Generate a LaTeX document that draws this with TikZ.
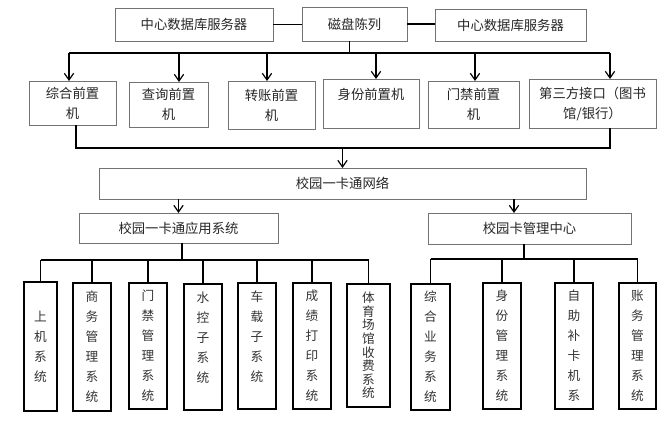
\documentclass[tikz,border=0pt]{standalone}
\usepackage{fontspec}
\newfontfamily\cjk{Noto Sans CJK SC}
\usetikzlibrary{arrows.meta,positioning,calc}

\begin{document}
\begin{tikzpicture}[x=0.75pt, y=-0.75pt,
    wh/.style 2 args={minimum width=#1*0.75pt, minimum height=#2*0.75pt},
    box/.style={draw=black!55, line width=0.6pt, inner sep=0pt, outer sep=0pt,
        align=center, text=black!85, font=\cjk\fontsize{10}{15}\selectfont},
    leaf/.style={draw=black, line width=1.1pt, inner sep=0pt, outer sep=0pt,
        align=center, text=black!80, font=\cjk\fontsize{9.5}{15}\selectfont},
    wire/.style={draw=black, line width=0.9pt},
    arr/.style={wire, -{Straight Barb[length=5pt, width=7pt]}}]
    \useasboundingbox (0,0) rectangle (672,424);

    \node[box, wh={158}{33}] (srvL) at (194,24.5) {中心数据库服务器};
    \node[box, wh={105}{34}] (disk) at (354.5,24) {磁盘陈列};
    \node[box, wh={151}{32}] (srvR) at (510.5,25) {中心数据库服务器};

    \node[box, wh={87}{44}]  (f1) at (72.5,103)   {综合前置\\机};
    \node[box, wh={79}{45}]  (f2) at (168.5,104.5) {查询前置\\机};
    \node[box, wh={87}{48}]  (f3) at (271.5,105)  {转账前置\\机};
    \node[box, wh={96}{49}]  (f4) at (371,103.5)  {身份前置机\\\mbox{}};
    \node[box, wh={91}{47}]  (f5) at (473.5,104.5) {门禁前置\\机};
    \node[box, wh={127}{49}] (f6) at (592.5,103.5) {第三方接口（图书\\馆/银行）};

    \node[box, wh={487}{31}] (net)  at (342.5,183.5) {校园一卡通网络};
    \node[box, wh={199}{30}] (app)  at (178.5,228)   {校园一卡通应用系统};
    \node[box, wh={203}{31}] (mgmt) at (529.5,228.5) {校园卡管理中心};

    \node[leaf, wh={33}{129}] (l1)  at (40.5,346.5) {上\\机\\系\\统};
    \node[leaf, wh={38}{128}] (l2)  at (92,347)     {商\\务\\管\\理\\系\\统};
    \node[leaf, wh={38}{126}] (l3)  at (148,346)    {门\\禁\\管\\理\\系\\统};
    \node[leaf, wh={38}{126}] (l4)  at (203,347)    {水\\控\\子\\系\\统\\\mbox{}};
    \node[leaf, wh={38}{126}] (l5)  at (257,346)    {车\\载\\子\\系\\统\\\mbox{}};
    \node[leaf, wh={38}{126}] (l6)  at (312,346)    {成\\绩\\打\\印\\系\\统};
    \node[leaf, wh={43}{123}, font=\cjk\fontsize{9.5}{10.2}\selectfont] (l7) at (368.5,345.5)
        {体\\育\\场\\馆\\收\\费\\系\\统};
    \node[leaf, wh={39}{126}] (l8)  at (430.5,347)  {综\\合\\业\\务\\系\\统};
    \node[leaf, wh={38}{126}] (l9)  at (502,346)    {身\\份\\管\\理\\系\\统};
    \node[leaf, wh={38}{126}] (l10) at (574,346)    {自\\助\\补\\卡\\机\\系};
    \node[leaf, wh={37}{126}] (l11) at (637.5,346)  {账\\务\\管\\理\\系\\统};

    \draw[wire] (srvL.east) -- (srvL.east -| disk.west);
    \draw[wire] (disk.east) -- (disk.east -| srvR.west);

    \draw[wire] ($(disk.south)+(-5,0)$) -- ++(0,12) coordinate (busA);
    \foreach \n/\dx in {f1/-3.5, f2/10.5, f3/-4.5, f4/5, f5/1.5, f6/17.5}
        \coordinate (t\n) at ($(\n.north)+(\dx,0)$);
    \draw[wire] (tf1 |- busA) -- (tf6 |- busA);
    \foreach \n in {f1,f2,f3,f4,f5,f6}
        \draw[arr] (t\n |- busA) -- (t\n);

    \coordinate (bf1) at ($(f1.south)+(3.5,0)$);
    \coordinate (bf6) at ($(f6.south)+(17.5,0)$);
    \draw[wire] (bf1) -- ++(0,23) coordinate (busB) -| (bf6);
    \draw[arr] (busB -| net.north) -- (net.north);

    \coordinate (tm) at ($(mgmt.north)+(-15.5,0)$);
    \draw[arr] (app.north |- net.south) -- (app.north);
    \draw[arr] (tm |- net.south) -- (tm);

    \draw[wire] ($(app.south)+(3.5,0)$) -- ++(0,17) coordinate (busL);
    \draw[wire] (busL -| l1.north) -- (busL -| l7.north);
    \foreach \l in {l1,l2,l3,l4,l5,l6,l7}
        \draw[wire] (busL -| \l.north) -- (\l.north);

    \draw[wire] ($(mgmt.south)+(-5.5,0)$) -- ++(0,15) coordinate (busR);
    \draw[wire] (busR -| l8.north) -- (busR -| l11.north);
    \foreach \l in {l8,l9,l10,l11}
        \draw[wire] (busR -| \l.north) -- (\l.north);
\end{tikzpicture}
\end{document}
